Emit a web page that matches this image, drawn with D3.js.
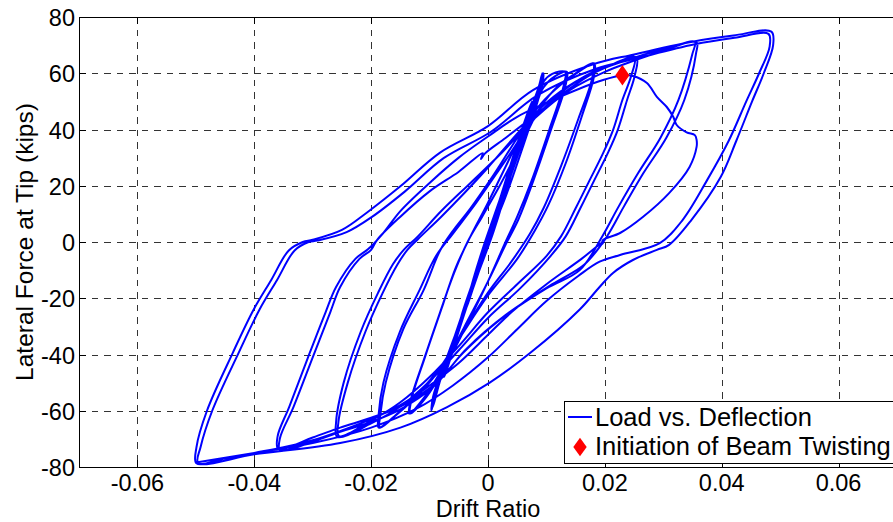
<!DOCTYPE html>
<html lang="en">
<head>
  <meta charset="UTF-8">
  <title>Load vs. Deflection</title>
  <script src="https://d3js.org/d3.v7.min.js"></script>
  <style>
    body { margin: 0; background: #fff; }
    svg { display: block; font-family: "Liberation Sans", Arial, Helvetica, sans-serif; }
    .grid line { stroke: #333; stroke-width: 1; stroke-dasharray: 6.5,6; shape-rendering: crispEdges; }
    .tick-label { font-size: 23.5px; fill: #000; }
    .axis-title { font-size: 24.5px; fill: #000; }
    .x-title { font-size: 23.5px; }
    .hyst { fill: none; stroke: #0000ff; stroke-width: 2; stroke-linejoin: round; stroke-linecap: round; }
    .legend text { font-size: 25.5px; fill: #000; }
  </style>
</head>
<body>
<div id="chart"></div>
<script>
// tick labels
const xTicks = [-0.06, -0.04, -0.02, 0, 0.02, 0.04, 0.06];
const xTickLabels = ["-0.06", "-0.04", "-0.02", "0", "0.02", "0.04", "0.06"];
const yTicks = [-80, -60, -40, -20, 0, 20, 40, 60, 80];
const yTickLabels = ["-80", "-60", "-40", "-20", "0", "20", "40", "60", "80"];

// load history: [drift ratio, lateral force (kips)]
const elasticCycles = [
  [0, 0], [0.002, 14], [0.0038, 25], [0.0034, 21], [0.001, 4], [-0.002, -13], [-0.0038, -24], [-0.0034, -20], [-0.001, -3],
  [0.002, 15], [0.005, 33], [0.0045, 28], [0.0015, 8], [-0.002, -12], [-0.005, -31], [-0.0045, -26], [-0.0012, -6],
  [0.002, 14], [0.005, 34], [0.0075, 49], [0.007, 44], [0.004, 25], [0.001, 5], [-0.003, -19], [-0.0075, -47], [-0.007, -42], [-0.004, -23], [-0.001, -4],
  [0.002, 15], [0.005, 35], [0.0075, 50], [0.0071, 45], [0.004, 26], [0.001, 6], [-0.003, -18], [-0.0075, -48], [-0.0071, -43], [-0.004, -24], [-0.001, -5]
];
const cycles010 = [
  [0.002, 12], [0.005, 32], [0.0075, 48], [0.0088, 56], [0.0092, 59.5], [0.0089, 55], [0.0065, 40], [0.003, 19], [0, 0], [-0.003, -18], [-0.006, -36], [-0.0083, -50], [-0.0094, -58.5], [-0.0091, -54], [-0.0068, -40], [-0.0035, -22], [-0.0005, -4],
  [0.0025, 15], [0.0055, 35], [0.0078, 50], [0.009, 57], [0.0093, 60], [0.009, 55.5], [0.0068, 42], [0.0035, 22], [0.0005, 3], [-0.0025, -15], [-0.0058, -35], [-0.0082, -49], [-0.0095, -59], [-0.0092, -54.5], [-0.007, -41], [-0.0038, -23], [-0.0008, -5],
  [0.002, 13], [0.0052, 33], [0.0076, 48], [0.0089, 56], [0.0094, 59.5], [0.0091, 54], [0.007, 42], [0.0038, 23], [0.0008, 5], [-0.0022, -13], [-0.0055, -33], [-0.008, -47], [-0.0093, -56], [-0.0096, -59.5], [-0.0093, -55], [-0.0072, -42], [-0.004, -24], [-0.001, -6],
  [0.0018, 11], [0.005, 31], [0.0075, 46], [0.0088, 55], [0.0095, 60], [0.0092, 55], [0.0072, 43], [0.004, 25], [0.001, 6], [-0.002, -12], [-0.0052, -31], [-0.0078, -46], [-0.0092, -55], [-0.0097, -60], [-0.0094, -55], [-0.0074, -43], [-0.0043, -26], [-0.0015, -9]
];
const cycles015 = [
  [0.0005, 3], [0.003, 16], [0.006, 34], [0.0085, 50], [0.0095, 57], [0.011, 59.8], [0.0132, 60.5], [0.013, 56], [0.0105, 40], [0.0075, 22], [0.005, 9], [0.003, 0], [0, -14], [-0.004, -31], [-0.0075, -45], [-0.0105, -55], [-0.0133, -61],
  [-0.0131, -56], [-0.0108, -41], [-0.008, -24], [-0.0055, -9], [-0.003, 2],
  [0, 14], [0.004, 31], [0.0075, 46], [0.0095, 55], [0.0115, 59], [0.0135, 60.5], [0.0132, 55], [0.0108, 40], [0.0078, 22], [0.0052, 8], [0.003, -1], [0, -14], [-0.004, -30], [-0.0078, -45], [-0.011, -55.5], [-0.0135, -61],
  [-0.0132, -56], [-0.011, -42], [-0.0082, -25], [-0.0058, -11], [-0.0035, 0]
];
const cycles020 = [
  [-0.001, 9], [0.002, 20], [0.006, 36], [0.009, 48], [0.012, 55.5], [0.015, 60], [0.018, 63.5], [0.0178, 58], [0.0155, 44], [0.0125, 27], [0.0095, 12], [0.0072, 3], [0.004, -7], [0, -18], [-0.004, -31], [-0.008, -44], [-0.012, -54], [-0.0155, -61], [-0.0185, -66],
  [-0.0184, -61], [-0.0175, -50], [-0.0145, -31], [-0.011, -17], [-0.0082, -3],
  [-0.006, 4], [-0.003, 12], [0.001, 24], [0.005, 37], [0.009, 49], [0.0125, 56], [0.0155, 60.5], [0.0182, 63.5], [0.0181, 58.5], [0.0161, 45], [0.0133, 28], [0.0103, 13], [0.008, 4], [0.005, -6], [0, -19], [-0.0045, -33], [-0.0085, -46], [-0.0125, -55.5], [-0.016, -62], [-0.0187, -66],
  [-0.0187, -61], [-0.0179, -50], [-0.0151, -32], [-0.0117, -17], [-0.0089, -5]
];
const cycles030 = [
  [-0.006, 3], [-0.002, 14], [0.003, 29], [0.008, 44], [0.013, 54], [0.018, 60.5], [0.022, 63.5], [0.0251, 65.8],
  [0.0245, 59], [0.023, 50.5], [0.0214, 39.8], [0.0197, 31.6], [0.0174, 22], [0.015, 12], [0.0125, 2], [0.01, -5], [0.005, -15], [0, -25], [-0.005, -37], [-0.01, -48], [-0.015, -57], [-0.02, -63.5], [-0.0255, -69],
  [-0.0256, -64], [-0.024, -50], [-0.021, -32], [-0.018, -18], [-0.0155, -8], [-0.0138, -2.8],
  [-0.012, 1], [-0.008, 9], [-0.004, 17.5], [0, 26.5], [0.005, 38.5], [0.01, 49.5], [0.015, 57], [0.02, 62], [0.0254, 65.6],
  [0.0251, 59], [0.0238, 50.5], [0.0222, 39.8], [0.0205, 31.6], [0.0182, 22], [0.0158, 12], [0.0133, 2], [0.0107, -5], [0.0055, -16.5], [0, -27], [-0.005, -38.5], [-0.01, -49.5], [-0.015, -58.5], [-0.02, -64.5], [-0.0258, -69.3],
  [-0.026, -64], [-0.0247, -50], [-0.0218, -32], [-0.0188, -18], [-0.0163, -8], [-0.0145, -3]
];
const cycles040 = [
  [-0.012, 2], [-0.008, 11], [-0.003, 21], [0.002, 31], [0.008, 44], [0.014, 54], [0.02, 60.5], [0.025, 64.5], [0.03, 68], [0.0354, 71.2],
  [0.035, 67], [0.0326, 50.5], [0.0295, 37], [0.0257, 24.5], [0.0223, 12.4], [0.0195, 1.8], [0.0157, -10], [0.01, -16.5], [0.002, -27.7], [-0.0043, -39.5], [-0.0094, -51.6], [-0.015, -59.5], [-0.02, -64], [-0.0253, -67.5], [-0.03, -71], [-0.0356, -74],
  [-0.0356, -69.7], [-0.0333, -58.7], [-0.030, -41], [-0.027, -25], [-0.0253, -16], [-0.022, -6], [-0.020, -2.8],
  [-0.019, 0.7], [-0.015, 9], [-0.01, 18], [-0.005, 25], [-0.0009, 31.6], [-0.0012, 29.5], [-0.0005, 31.5], [0.003, 37], [0.0077, 44.5], [0.013, 53], [0.018, 60], [0.025, 65.5], [0.03, 68.5], [0.0357, 71],
  [0.0356, 67], [0.0336, 50.5], [0.0305, 37], [0.0266, 24.5], [0.0232, 12.4], [0.0203, 1.8], [0.0165, -8], [0.011, -15], [0.003, -26], [-0.0037, -38], [-0.0088, -50], [-0.015, -58.5], [-0.02, -62.5], [-0.0253, -66], [-0.03, -69.5], [-0.0359, -73.5],
  [-0.0360, -69], [-0.034, -58.5], [-0.0308, -41], [-0.0278, -25], [-0.026, -16], [-0.0227, -6], [-0.0205, -2.5]
];
const twistCycle = [
  [-0.018, 3], [-0.015, 11], [-0.01, 21], [-0.005, 30], [0, 37.5], [0.005, 44.5], [0.0123, 51.6], [0.0197, 57.6], [0.023, 59.3],
  [0.0248, 59], [0.0272, 56.5], [0.0289, 51.6], [0.0306, 48], [0.0317, 44.5], [0.0323, 41.6], [0.034, 39], [0.0354, 38], [0.0357, 36.3], [0.0357, 33.8],
  [0.0345, 26.7], [0.031, 17.4], [0.0265, 8.9], [0.0226, 3.2], [0.0197, 0.7], [0.0195, -0.8], [0.0198, 0.2],
  [0.016, -6], [0.01, -15], [0.004, -25], [0, -33], [-0.005, -43], [-0.01, -51], [-0.015, -58], [-0.02, -63], [-0.025, -67], [-0.03, -70.5], [-0.035, -73], [-0.04, -75], [-0.045, -77], [-0.0499, -78.7]
];
const cycles050 = [
  [-0.0499, -73], [-0.0481, -60], [-0.0437, -39.5], [-0.0401, -24], [-0.0371, -13.5], [-0.0341, -3], [-0.0317, 0], [-0.030, 0.8], [-0.025, 4.3], [-0.0207, 10.5], [-0.015, 19.8], [-0.0082, 31.8], [0, 41.2], [0.0077, 54], [0.018, 63.2], [0.025, 66.7], [0.035, 71.2], [0.042, 73.4], [0.0485, 74.8],
  [0.0488, 70], [0.0472, 60], [0.0452, 50], [0.0425, 36], [0.0398, 23], [0.0348, 7.8], [0.031, -1], [0.0289, -2.8], [0.0248, -6.4], [0.0214, -11], [0.0191, -16], [0.0157, -24], [0.0072, -39.5], [0.0003, -50], [-0.007, -58.7], [-0.015, -66], [-0.0253, -71.5], [-0.04, -75.5], [-0.0496, -78.5],
  [-0.0492, -73], [-0.0472, -60], [-0.0427, -39.5], [-0.0391, -24], [-0.0361, -13.5], [-0.0331, -3], [-0.0307, 0], [-0.0292, 0.5], [-0.0242, 3.5], [-0.0198, 9], [-0.0142, 18], [-0.0076, 29.8], [0.0005, 39.2], [0.0085, 52.2], [0.0185, 61.6], [0.0255, 65.3], [0.0352, 70.2], [0.0422, 72.6], [0.048, 74],
  [0.0482, 69.5], [0.0464, 60], [0.0442, 50], [0.0412, 36], [0.0375, 22], [0.0333, 7.8], [0.0294, -0.4], [0.0226, -4.6], [0.0191, -7], [0.0155, -12], [0.01, -21], [0.005, -31], [0, -41], [-0.006, -51], [-0.012, -59], [-0.02, -66], [-0.03, -71.5], [-0.04, -75], [-0.0497, -78.3]
];
const twistPoint = [0.023, 59.3];

const width = 893, height = 522;
const margin = { left: 79, top: 17, right: 897, bottom: 467 };

const svg = d3.select("#chart").append("svg")
  .attr("width", width)
  .attr("height", height);

const x = d3.scaleLinear().domain([-0.07, 0.07]).range([margin.left, margin.right]);
const y = d3.scaleLinear().domain([-80, 80]).range([margin.bottom, margin.top]);

svg.append("defs").append("clipPath").attr("id", "plot-clip")
  .append("rect")
  .attr("x", margin.left).attr("y", margin.top)
  .attr("width", margin.right - margin.left).attr("height", margin.bottom - margin.top);

// grid
const grid = svg.append("g").attr("class", "grid");
grid.selectAll(".vx").data(xTicks).enter().append("line")
  .attr("x1", d => Math.round(x(d)) + 0.5).attr("x2", d => Math.round(x(d)) + 0.5)
  .attr("y1", margin.top).attr("y2", margin.bottom);
grid.selectAll(".hy").data(yTicks.filter(d => d > -80 && d < 80)).enter().append("line")
  .attr("y1", d => Math.round(y(d)) + 0.5).attr("y2", d => Math.round(y(d)) + 0.5)
  .attr("x1", margin.left).attr("x2", margin.right);

// hysteresis trace
const trace = [].concat(elasticCycles, cycles010, cycles015, cycles020, cycles030, cycles040, twistCycle, cycles050);
const line = d3.line()
  .x(d => x(d[0]))
  .y(d => y(d[1]))
  .curve(d3.curveCatmullRom.alpha(0.5));

svg.append("path")
  .attr("class", "hyst")
  .attr("clip-path", "url(#plot-clip)")
  .attr("d", line(trace));

// twisting marker
const diamond = d3.symbol().type(d3.symbolDiamond).size(120);
svg.append("path")
  .attr("d", diamond())
  .attr("fill", "#ff0000")
  .attr("transform", `translate(${x(twistPoint[0])},${y(twistPoint[1])}) scale(1.2,1)`);

// axes box and ticks
const axes = svg.append("g").attr("stroke", "#000").attr("stroke-width", 1).attr("shape-rendering", "crispEdges");
axes.append("rect")
  .attr("x", margin.left + 0.5).attr("y", margin.top + 0.5)
  .attr("width", margin.right - margin.left).attr("height", margin.bottom - margin.top)
  .attr("fill", "none");
xTicks.forEach(d => {
  const px = Math.round(x(d)) + 0.5;
  axes.append("line").attr("x1", px).attr("x2", px).attr("y1", margin.bottom).attr("y2", margin.bottom - 7);
  axes.append("line").attr("x1", px).attr("x2", px).attr("y1", margin.top).attr("y2", margin.top + 7);
});
yTicks.forEach(d => {
  const py = Math.round(y(d)) + 0.5;
  axes.append("line").attr("y1", py).attr("y2", py).attr("x1", margin.left).attr("x2", margin.left + 7);
  axes.append("line").attr("y1", py).attr("y2", py).attr("x1", margin.right).attr("x2", margin.right - 7);
});

// tick labels
svg.selectAll(".xl").data(xTicks).enter().append("text")
  .attr("class", "tick-label")
  .attr("x", d => x(d))
  .attr("y", margin.bottom + 24)
  .attr("text-anchor", "middle")
  .text((d, i) => xTickLabels[i]);
svg.selectAll(".yl").data(yTicks).enter().append("text")
  .attr("class", "tick-label")
  .attr("x", margin.left - 4)
  .attr("y", d => y(d) + 9)
  .attr("text-anchor", "end")
  .text((d, i) => yTickLabels[i]);

// axis titles
svg.append("text")
  .attr("class", "axis-title x-title")
  .attr("x", x(0))
  .attr("y", 516.5)
  .attr("text-anchor", "middle")
  .text("Drift Ratio");
svg.append("text")
  .attr("class", "axis-title")
  .attr("transform", `translate(33,${(margin.top + margin.bottom) / 2}) rotate(-90)`)
  .attr("text-anchor", "middle")
  .text("Lateral Force at Tip (kips)");

// legend
const legend = svg.append("g").attr("class", "legend");
legend.append("rect")
  .attr("x", 564.5).attr("y", 401.5)
  .attr("width", 340).attr("height", 62)
  .attr("fill", "#fff").attr("stroke", "#000").attr("stroke-width", 1)
  .attr("shape-rendering", "crispEdges");
legend.append("line")
  .attr("x1", 568).attr("x2", 592).attr("y1", 417).attr("y2", 417)
  .attr("stroke", "#0000ff").attr("stroke-width", 2);
legend.append("text").attr("x", 595).attr("y", 426).text("Load vs. Deflection");
legend.append("path")
  .attr("d", d3.symbol().type(d3.symbolDiamond).size(100)())
  .attr("fill", "#ff0000")
  .attr("transform", "translate(580,447) scale(1.25,1)");
legend.append("text").attr("x", 595).attr("y", 455).text("Initiation of Beam Twisting");
</script>
</body>
</html>
